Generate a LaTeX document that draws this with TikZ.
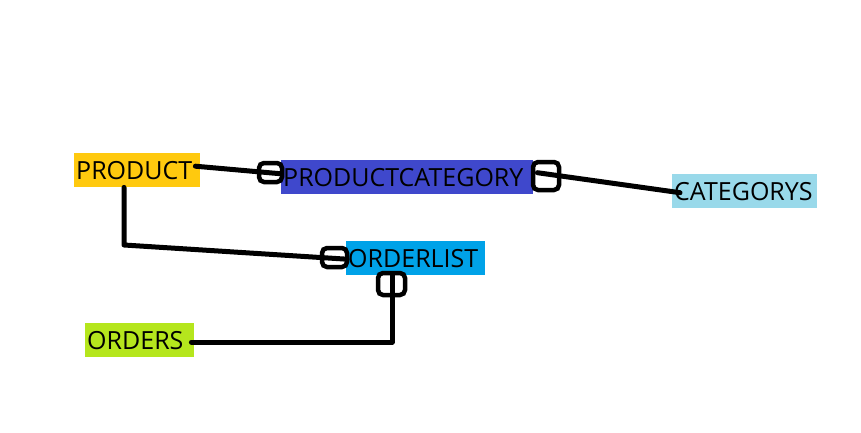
\documentclass[tikz,border=0pt]{standalone}
\usepackage{fontspec}
\setmainfont{Open Sans}
\definecolor{cprod}{HTML}{FFC90E}
\definecolor{cpc}{HTML}{3F48CC}
\definecolor{col}{HTML}{00A2E8}
\definecolor{ccat}{HTML}{99D9EA}
\definecolor{cord}{HTML}{B5E61D}
\begin{document}
\begin{tikzpicture}[x=1pt,y=-1pt,
  entity/.style={anchor=north west, inner xsep=2pt, inner ysep=0pt, minimum height=34pt,
    align=left, font=\fontsize{25}{30}\selectfont, text=black},
  conn/.style={line width=5pt, line cap=round, line join=round},
  marker/.style={line width=4.5pt, rounded corners=5pt}]
\useasboundingbox (0,0) rectangle (861,433);
\node[entity, fill=cprod, text width=122pt] (prod) at (74,153) {PRODUCT};
\node[entity, fill=cpc, text width=248pt] (pc) at (281,160) {PRODUCTCATEGORY};
\node[entity, fill=col, text width=135pt] (ol) at (346,241) {ORDERLIST};
\node[entity, fill=ccat, text width=141pt] (cat) at (672,174) {CATEGORYS};
\node[entity, fill=cord, text width=105pt] (ord) at (85,323) {ORDERS};
% connectors
\draw[conn] ([xshift=-5pt,yshift=4pt]prod.east) -- ([xshift=-1pt,yshift=3.5pt]pc.west);
\draw[conn] ([xshift=4pt,yshift=4.5pt]pc.east) -- ([xshift=8pt,yshift=-1.5pt]cat.west);
\coordinate (bend1) at (124,245);
\draw[conn] (prod.south -| bend1) -- (bend1) -- ([xshift=1pt,yshift=-1pt]ol.west);
\coordinate (bend2) at (392,342);
\draw[conn] (ol.south -| bend2) -- (bend2) -- ([xshift=-3pt]bend2 -| ord.east);
% markers
\draw[marker] (259,163) rectangle (282,182);
\draw[marker] (533,162) rectangle (559,190);
\draw[marker] (322,248) rectangle (347,267);
\draw[marker] (378,273) rectangle (405,295);
\end{tikzpicture}
\end{document}
